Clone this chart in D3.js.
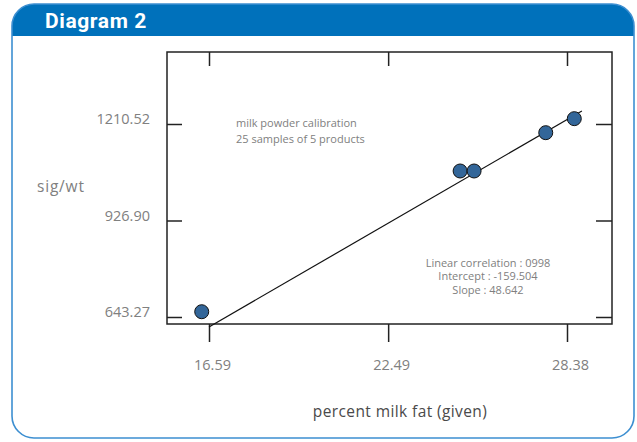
<!DOCTYPE html>
<html>
<head>
<meta charset="utf-8">
<script src="https://cdn.jsdelivr.net/npm/d3@7"></script>
<style>
  html, body { margin: 0; padding: 0; background: #fff; }
  svg { display: block; }
</style>
</head>
<body>
<svg id="chart" width="637" height="442"></svg>
<script>
// sample points
const fatGiven = [16.35, 24.86, 25.32, 27.68, 28.62]
const sigWt = [658.8, 1072.4, 1072.4, 1185.0, 1226.2]

// fitted line as drawn
const fitX = [16.59, 28.87]
const fitY = [613.9, 1248.8]

const xTicks = [16.59, 22.49, 28.38]
const yTicks = [643.27, 926.90, 1210.52]

const notes = ["milk powder calibration", "25 samples of 5 products"]
const stats = ["Linear correlation : 0998", "Intercept : -159.504", "Slope : 48.642"]

const box = { left: 167, right: 612, top: 52, bottom: 324 }
const grey = "#808080"
const font = "'Open Sans', sans-serif"

const svg = d3.select("#chart")

// panel with blue header
svg.append("path")
  .attr("d", roundedTop(12, 4, 622, 32, 22))
  .attr("fill", "#0071bb")
svg.append("rect")
  .attr("x", 12).attr("y", 4)
  .attr("width", 622).attr("height", 434)
  .attr("rx", 22).attr("ry", 22)
  .attr("fill", "none")
  .attr("stroke", "#3d8fd1")
  .attr("stroke-width", 1.6)
svg.append("text")
  .attr("x", 45).attr("y", 28)
  .attr("fill", "#fff")
  .style("font-family", "Roboto, sans-serif")
  .style("font-weight", "700")
  .style("font-size", "21px")
  .style("letter-spacing", "0.6px")
  .text("Diagram 2")

function roundedTop(x, y, w, h, r) {
  return "M" + x + "," + (y + h) +
    "V" + (y + r) +
    "A" + r + "," + r + " 0 0 1 " + (x + r) + "," + y +
    "H" + (x + w - r) +
    "A" + r + "," + r + " 0 0 1 " + (x + w) + "," + (y + r) +
    "V" + (y + h) + "Z"
}

const x = d3.scaleLinear()
  .domain([xTicks[0], xTicks[2]])
  .range([209, 567])
const y = d3.scaleLinear()
  .domain([yTicks[0], yTicks[2]])
  .range([317, 124])

const ink = "#222"

// frame
svg.append("rect")
  .attr("x", box.left).attr("y", box.top)
  .attr("width", box.right - box.left)
  .attr("height", box.bottom - box.top)
  .attr("fill", "none")
  .attr("stroke", ink)
  .attr("stroke-width", 1.5)

// ticks: top and sides point inward, bottom points outward
const axisTop = d3.axisBottom(x).tickValues(xTicks).tickSize(14).tickFormat("")
svg.append("g").attr("transform", "translate(0," + box.top + ")").call(axisTop)
const axisBot = d3.axisBottom(x).tickValues(xTicks).tickSize(18).tickPadding(18)
  .tickFormat(d3.format(".2f"))
svg.append("g").attr("transform", "translate(0," + box.bottom + ")").call(axisBot)
const axisL = d3.axisRight(y).tickValues(yTicks).tickSize(15).tickFormat("")
svg.append("g").attr("transform", "translate(" + box.left + ",0)").call(axisL)
const axisR = d3.axisLeft(y).tickValues(yTicks).tickSize(16).tickFormat("")
svg.append("g").attr("transform", "translate(" + box.right + ",0)").call(axisR)

svg.selectAll(".domain").remove()
svg.selectAll(".tick line").attr("stroke", ink).attr("stroke-width", 1.5)
svg.selectAll(".tick text")
  .attr("fill", grey)
  .attr("dx", "3px")
  .style("font-family", font)
  .style("font-size", "14.5px")

// y labels sit left of the frame
svg.append("g")
  .selectAll("text")
  .data(yTicks)
  .enter()
  .append("text")
  .attr("x", 150)
  .attr("y", d => y(d) - 5)
  .attr("dy", "0.35em")
  .attr("text-anchor", "end")
  .attr("fill", grey)
  .style("font-family", font)
  .style("font-size", "14.5px")
  .text(d => d.toFixed(2))

svg.append("text")
  .attr("x", 37).attr("y", 187)
  .attr("dy", "0.35em")
  .attr("fill", grey)
  .style("font-family", font)
  .style("font-size", "15.5px")
  .style("letter-spacing", "0.8px")
  .text("sig/wt")

svg.append("text")
  .attr("x", 400).attr("y", 412)
  .attr("dy", "0.35em")
  .attr("text-anchor", "middle")
  .attr("fill", "#4a4a4a")
  .style("font-family", font)
  .style("font-size", "15.5px")
  .style("letter-spacing", "0.4px")
  .text("percent milk fat (given)")

// regression line
svg.append("path")
  .datum(d3.zip(fitX, fitY))
  .attr("d", d3.line().x(d => x(d[0])).y(d => y(d[1])))
  .attr("fill", "none")
  .attr("stroke", "#111")
  .attr("stroke-width", 1.2)

svg.selectAll("circle")
  .data(d3.zip(fatGiven, sigWt))
  .enter()
  .append("circle")
  .attr("cx", d => x(d[0]))
  .attr("cy", d => y(d[1]))
  .attr("r", 7)
  .attr("fill", "#336699")
  .attr("stroke", "#111")
  .attr("stroke-width", 1)

svg.append("g")
  .selectAll("text")
  .data(notes)
  .enter()
  .append("text")
  .attr("x", 236)
  .attr("y", (d, i) => 123 + i * 16)
  .attr("dy", "0.35em")
  .attr("fill", grey)
  .style("font-family", font)
  .style("font-size", "11px")
  .text(d => d)

svg.append("g")
  .selectAll("text")
  .data(stats)
  .enter()
  .append("text")
  .attr("x", 488)
  .attr("y", (d, i) => 263 + i * 13.5)
  .attr("dy", "0.35em")
  .attr("text-anchor", "middle")
  .attr("fill", grey)
  .style("font-family", font)
  .style("font-size", "11px")
  .text(d => d)
</script>
</body>
</html>
